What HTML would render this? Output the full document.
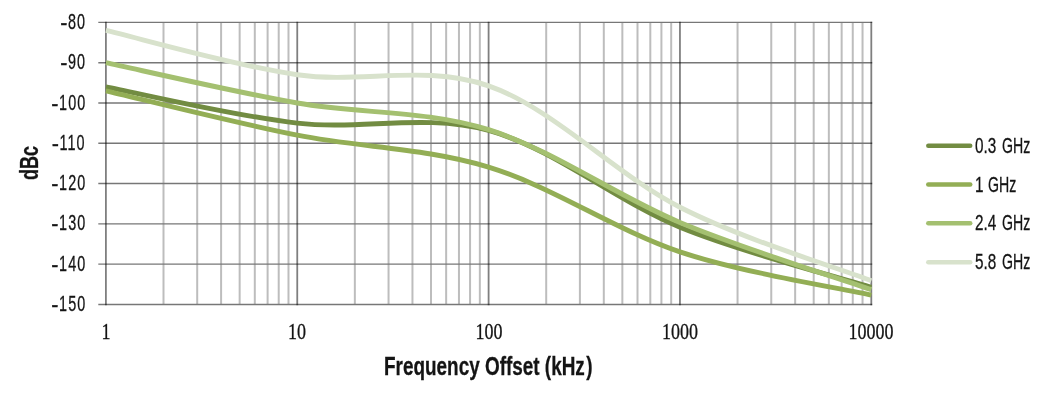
<!DOCTYPE html>
<html><head><meta charset="utf-8"><title>Phase noise chart</title><style>
html,body{margin:0;padding:0;background:#fff;}
#c{position:relative;width:1048px;height:400px;overflow:hidden;background:#fff;color:#141414;filter:blur(0.45px);}
svg{position:absolute;left:0;top:0;}
</style></head><body><div id="c">
<svg width="1048" height="400" viewBox="0 0 1048 400">
<line x1="163.50" y1="22.40" x2="163.50" y2="304.43" stroke="#bdbdbd" stroke-width="2.0"/>
<line x1="197.20" y1="22.40" x2="197.20" y2="304.43" stroke="#bdbdbd" stroke-width="2.0"/>
<line x1="221.10" y1="22.40" x2="221.10" y2="304.43" stroke="#bdbdbd" stroke-width="2.0"/>
<line x1="239.65" y1="22.40" x2="239.65" y2="304.43" stroke="#bdbdbd" stroke-width="2.0"/>
<line x1="254.80" y1="22.40" x2="254.80" y2="304.43" stroke="#bdbdbd" stroke-width="2.0"/>
<line x1="267.61" y1="22.40" x2="267.61" y2="304.43" stroke="#bdbdbd" stroke-width="2.0"/>
<line x1="278.71" y1="22.40" x2="278.71" y2="304.43" stroke="#bdbdbd" stroke-width="2.0"/>
<line x1="288.49" y1="22.40" x2="288.49" y2="304.43" stroke="#bdbdbd" stroke-width="2.0"/>
<line x1="354.85" y1="22.40" x2="354.85" y2="304.43" stroke="#bdbdbd" stroke-width="2.0"/>
<line x1="388.55" y1="22.40" x2="388.55" y2="304.43" stroke="#bdbdbd" stroke-width="2.0"/>
<line x1="412.45" y1="22.40" x2="412.45" y2="304.43" stroke="#bdbdbd" stroke-width="2.0"/>
<line x1="431.00" y1="22.40" x2="431.00" y2="304.43" stroke="#bdbdbd" stroke-width="2.0"/>
<line x1="446.15" y1="22.40" x2="446.15" y2="304.43" stroke="#bdbdbd" stroke-width="2.0"/>
<line x1="458.96" y1="22.40" x2="458.96" y2="304.43" stroke="#bdbdbd" stroke-width="2.0"/>
<line x1="470.06" y1="22.40" x2="470.06" y2="304.43" stroke="#bdbdbd" stroke-width="2.0"/>
<line x1="479.84" y1="22.40" x2="479.84" y2="304.43" stroke="#bdbdbd" stroke-width="2.0"/>
<line x1="546.20" y1="22.40" x2="546.20" y2="304.43" stroke="#bdbdbd" stroke-width="2.0"/>
<line x1="579.90" y1="22.40" x2="579.90" y2="304.43" stroke="#bdbdbd" stroke-width="2.0"/>
<line x1="603.80" y1="22.40" x2="603.80" y2="304.43" stroke="#bdbdbd" stroke-width="2.0"/>
<line x1="622.35" y1="22.40" x2="622.35" y2="304.43" stroke="#bdbdbd" stroke-width="2.0"/>
<line x1="637.50" y1="22.40" x2="637.50" y2="304.43" stroke="#bdbdbd" stroke-width="2.0"/>
<line x1="650.31" y1="22.40" x2="650.31" y2="304.43" stroke="#bdbdbd" stroke-width="2.0"/>
<line x1="661.41" y1="22.40" x2="661.41" y2="304.43" stroke="#bdbdbd" stroke-width="2.0"/>
<line x1="671.19" y1="22.40" x2="671.19" y2="304.43" stroke="#bdbdbd" stroke-width="2.0"/>
<line x1="737.55" y1="22.40" x2="737.55" y2="304.43" stroke="#bdbdbd" stroke-width="2.0"/>
<line x1="771.25" y1="22.40" x2="771.25" y2="304.43" stroke="#bdbdbd" stroke-width="2.0"/>
<line x1="795.15" y1="22.40" x2="795.15" y2="304.43" stroke="#bdbdbd" stroke-width="2.0"/>
<line x1="813.70" y1="22.40" x2="813.70" y2="304.43" stroke="#bdbdbd" stroke-width="2.0"/>
<line x1="828.85" y1="22.40" x2="828.85" y2="304.43" stroke="#bdbdbd" stroke-width="2.0"/>
<line x1="841.66" y1="22.40" x2="841.66" y2="304.43" stroke="#bdbdbd" stroke-width="2.0"/>
<line x1="852.76" y1="22.40" x2="852.76" y2="304.43" stroke="#bdbdbd" stroke-width="2.0"/>
<line x1="862.54" y1="22.40" x2="862.54" y2="304.43" stroke="#bdbdbd" stroke-width="2.0"/>
<line x1="98.3" y1="22.40" x2="872.20" y2="22.40" stroke="#777777" stroke-width="1.4"/>
<line x1="98.3" y1="62.69" x2="872.20" y2="62.69" stroke="#777777" stroke-width="1.4"/>
<line x1="98.3" y1="102.98" x2="872.20" y2="102.98" stroke="#777777" stroke-width="1.4"/>
<line x1="98.3" y1="143.27" x2="872.20" y2="143.27" stroke="#777777" stroke-width="1.4"/>
<line x1="98.3" y1="183.56" x2="872.20" y2="183.56" stroke="#777777" stroke-width="1.4"/>
<line x1="98.3" y1="223.85" x2="872.20" y2="223.85" stroke="#777777" stroke-width="1.4"/>
<line x1="98.3" y1="264.14" x2="872.20" y2="264.14" stroke="#777777" stroke-width="1.4"/>
<line x1="98.3" y1="304.43" x2="872.20" y2="304.43" stroke="#777777" stroke-width="1.4"/>
<line x1="105.90" y1="21.70" x2="105.90" y2="305.13" stroke="#000000" stroke-opacity="0.5" stroke-width="1.8"/>
<line x1="297.25" y1="21.70" x2="297.25" y2="305.13" stroke="#000000" stroke-opacity="0.5" stroke-width="1.8"/>
<line x1="488.60" y1="21.70" x2="488.60" y2="305.13" stroke="#000000" stroke-opacity="0.5" stroke-width="1.8"/>
<line x1="679.95" y1="21.70" x2="679.95" y2="305.13" stroke="#000000" stroke-opacity="0.5" stroke-width="1.8"/>
<line x1="871.30" y1="21.70" x2="871.30" y2="305.13" stroke="#000000" stroke-opacity="0.5" stroke-width="1.8"/>
<path d="M105.90 86.86 C137.79 92.91 233.47 115.86 297.25 123.12 C361.03 130.39 424.82 113.11 488.60 130.46 C552.38 147.81 616.17 201.09 679.95 227.23 C743.73 253.38 839.41 277.33 871.30 287.35" fill="none" stroke="#728c42" stroke-width="4.9"/>
<path d="M105.90 90.89 C137.79 98.28 233.47 122.51 297.25 135.21 C361.03 147.91 424.82 147.64 488.60 167.08 C552.38 186.52 616.17 230.50 679.95 251.85 C743.73 273.21 839.41 287.98 871.30 295.20" fill="none" stroke="#93ae55" stroke-width="4.9"/>
<path d="M105.90 62.69 C137.79 69.41 233.47 91.81 297.25 102.98 C361.03 114.15 424.82 109.78 488.60 129.69 C552.38 149.60 616.17 195.78 679.95 222.44 C743.73 249.10 839.41 278.44 871.30 289.64" fill="none" stroke="#a4c070" stroke-width="4.9"/>
<path d="M105.90 30.46 C137.79 37.84 233.47 65.55 297.25 74.78 C361.03 84.00 424.82 63.74 488.60 85.82 C552.38 107.89 616.17 174.72 679.95 207.21 C743.73 239.70 839.41 268.48 871.30 280.74" fill="none" stroke="#d8e2cc" stroke-width="4.9"/>
<line x1="928.3" y1="145.75" x2="970.2" y2="145.75" stroke="#728c42" stroke-width="4.5" stroke-linecap="round"/>
<line x1="928.3" y1="184.55" x2="970.2" y2="184.55" stroke="#93ae55" stroke-width="4.5" stroke-linecap="round"/>
<line x1="928.3" y1="223.35" x2="970.2" y2="223.35" stroke="#a4c070" stroke-width="4.5" stroke-linecap="round"/>
<line x1="928.3" y1="262.15" x2="970.2" y2="262.15" stroke="#d8e2cc" stroke-width="4.5" stroke-linecap="round"/>
</svg>
<div style="position:absolute;right:961.85px;top:10.95px;font-family:'Liberation Sans',sans-serif;font-size:22.5px;line-height:1;white-space:nowrap;transform:scaleX(0.64);transform-origin:100% 0;letter-spacing:1.7px;-webkit-text-stroke:0.3px #141414;"><span style="display:inline-block;margin-right:0.5px;transform:translateY(0.8px) scaleX(1.5)">-</span>80</div>
<div style="position:absolute;right:961.85px;top:51.24px;font-family:'Liberation Sans',sans-serif;font-size:22.5px;line-height:1;white-space:nowrap;transform:scaleX(0.64);transform-origin:100% 0;letter-spacing:1.7px;-webkit-text-stroke:0.3px #141414;"><span style="display:inline-block;margin-right:0.5px;transform:translateY(0.8px) scaleX(1.5)">-</span>90</div>
<div style="position:absolute;right:961.85px;top:91.53px;font-family:'Liberation Sans',sans-serif;font-size:22.5px;line-height:1;white-space:nowrap;transform:scaleX(0.64);transform-origin:100% 0;letter-spacing:1.7px;-webkit-text-stroke:0.3px #141414;"><span style="display:inline-block;margin-right:0.5px;transform:translateY(0.8px) scaleX(1.5)">-</span>100</div>
<div style="position:absolute;right:961.85px;top:131.82px;font-family:'Liberation Sans',sans-serif;font-size:22.5px;line-height:1;white-space:nowrap;transform:scaleX(0.64);transform-origin:100% 0;letter-spacing:1.7px;-webkit-text-stroke:0.3px #141414;"><span style="display:inline-block;margin-right:0.5px;transform:translateY(0.8px) scaleX(1.5)">-</span>110</div>
<div style="position:absolute;right:961.85px;top:172.11px;font-family:'Liberation Sans',sans-serif;font-size:22.5px;line-height:1;white-space:nowrap;transform:scaleX(0.64);transform-origin:100% 0;letter-spacing:1.7px;-webkit-text-stroke:0.3px #141414;"><span style="display:inline-block;margin-right:0.5px;transform:translateY(0.8px) scaleX(1.5)">-</span>120</div>
<div style="position:absolute;right:961.85px;top:212.40px;font-family:'Liberation Sans',sans-serif;font-size:22.5px;line-height:1;white-space:nowrap;transform:scaleX(0.64);transform-origin:100% 0;letter-spacing:1.7px;-webkit-text-stroke:0.3px #141414;"><span style="display:inline-block;margin-right:0.5px;transform:translateY(0.8px) scaleX(1.5)">-</span>130</div>
<div style="position:absolute;right:961.85px;top:252.69px;font-family:'Liberation Sans',sans-serif;font-size:22.5px;line-height:1;white-space:nowrap;transform:scaleX(0.64);transform-origin:100% 0;letter-spacing:1.7px;-webkit-text-stroke:0.3px #141414;"><span style="display:inline-block;margin-right:0.5px;transform:translateY(0.8px) scaleX(1.5)">-</span>140</div>
<div style="position:absolute;right:961.85px;top:292.98px;font-family:'Liberation Sans',sans-serif;font-size:22.5px;line-height:1;white-space:nowrap;transform:scaleX(0.64);transform-origin:100% 0;letter-spacing:1.7px;-webkit-text-stroke:0.3px #141414;"><span style="display:inline-block;margin-right:0.5px;transform:translateY(0.8px) scaleX(1.5)">-</span>150</div>
<div style="position:absolute;left:105.90px;top:318.90px;width:0;height:0"><div style="position:absolute;left:0;top:0;font-family:'Liberation Serif',serif;font-size:24px;line-height:1;white-space:nowrap;-webkit-text-stroke:0.35px #141414;transform:translateX(-50%) scaleX(0.75);transform-origin:50% 0">1</div></div>
<div style="position:absolute;left:297.25px;top:318.90px;width:0;height:0"><div style="position:absolute;left:0;top:0;font-family:'Liberation Serif',serif;font-size:24px;line-height:1;white-space:nowrap;-webkit-text-stroke:0.35px #141414;transform:translateX(-50%) scaleX(0.75);transform-origin:50% 0">10</div></div>
<div style="position:absolute;left:488.60px;top:318.90px;width:0;height:0"><div style="position:absolute;left:0;top:0;font-family:'Liberation Serif',serif;font-size:24px;line-height:1;white-space:nowrap;-webkit-text-stroke:0.35px #141414;transform:translateX(-50%) scaleX(0.75);transform-origin:50% 0">100</div></div>
<div style="position:absolute;left:679.95px;top:318.90px;width:0;height:0"><div style="position:absolute;left:0;top:0;font-family:'Liberation Serif',serif;font-size:24px;line-height:1;white-space:nowrap;-webkit-text-stroke:0.35px #141414;transform:translateX(-50%) scaleX(0.75);transform-origin:50% 0">1000</div></div>
<div style="position:absolute;left:871.30px;top:318.90px;width:0;height:0"><div style="position:absolute;left:0;top:0;font-family:'Liberation Serif',serif;font-size:24px;line-height:1;white-space:nowrap;-webkit-text-stroke:0.35px #141414;transform:translateX(-50%) scaleX(0.75);transform-origin:50% 0">10000</div></div>
<div style="position:absolute;left:974.50px;top:134.95px;font-family:'Liberation Sans',sans-serif;font-size:22.3px;line-height:1;white-space:nowrap;transform:scaleX(0.686);transform-origin:0 0;-webkit-text-stroke:0.3px #141414;">0.3</div>
<div style="position:absolute;left:1002.40px;top:134.95px;font-family:'Liberation Sans',sans-serif;font-size:22.3px;line-height:1;white-space:nowrap;transform:scaleX(0.634);transform-origin:0 0;-webkit-text-stroke:0.3px #141414;">GHz</div>
<div style="position:absolute;left:974.70px;top:173.65px;font-family:'Liberation Sans',sans-serif;font-size:22.3px;line-height:1;white-space:nowrap;transform:scaleX(0.686);transform-origin:0 0;-webkit-text-stroke:0.3px #141414;">1</div>
<div style="position:absolute;left:988.10px;top:173.65px;font-family:'Liberation Sans',sans-serif;font-size:22.3px;line-height:1;white-space:nowrap;transform:scaleX(0.634);transform-origin:0 0;-webkit-text-stroke:0.3px #141414;">GHz</div>
<div style="position:absolute;left:974.50px;top:212.35px;font-family:'Liberation Sans',sans-serif;font-size:22.3px;line-height:1;white-space:nowrap;transform:scaleX(0.686);transform-origin:0 0;-webkit-text-stroke:0.3px #141414;">2.4</div>
<div style="position:absolute;left:1002.40px;top:212.35px;font-family:'Liberation Sans',sans-serif;font-size:22.3px;line-height:1;white-space:nowrap;transform:scaleX(0.634);transform-origin:0 0;-webkit-text-stroke:0.3px #141414;">GHz</div>
<div style="position:absolute;left:974.50px;top:251.05px;font-family:'Liberation Sans',sans-serif;font-size:22.3px;line-height:1;white-space:nowrap;transform:scaleX(0.686);transform-origin:0 0;-webkit-text-stroke:0.3px #141414;">5.8</div>
<div style="position:absolute;left:1002.40px;top:251.05px;font-family:'Liberation Sans',sans-serif;font-size:22.3px;line-height:1;white-space:nowrap;transform:scaleX(0.634);transform-origin:0 0;-webkit-text-stroke:0.3px #141414;">GHz</div>
<div style="position:absolute;left:384.00px;top:353.30px;font-family:'Liberation Sans',sans-serif;font-size:26.5px;line-height:1;font-weight:bold;white-space:nowrap;transform:scaleX(0.714);transform-origin:0 0;-webkit-text-stroke:0.3px #141414;">Frequency Offset (kHz<span style="margin-left:2px">)</span></div>
<div style="position:absolute;left:15.90px;top:180.30px;font-family:'Liberation Sans',sans-serif;font-weight:bold;font-size:26.5px;line-height:1;white-space:nowrap;-webkit-text-stroke:0.3px #141414;transform:rotate(-90deg) scaleX(0.677);transform-origin:0 0">dBc</div>
</div></body></html>
